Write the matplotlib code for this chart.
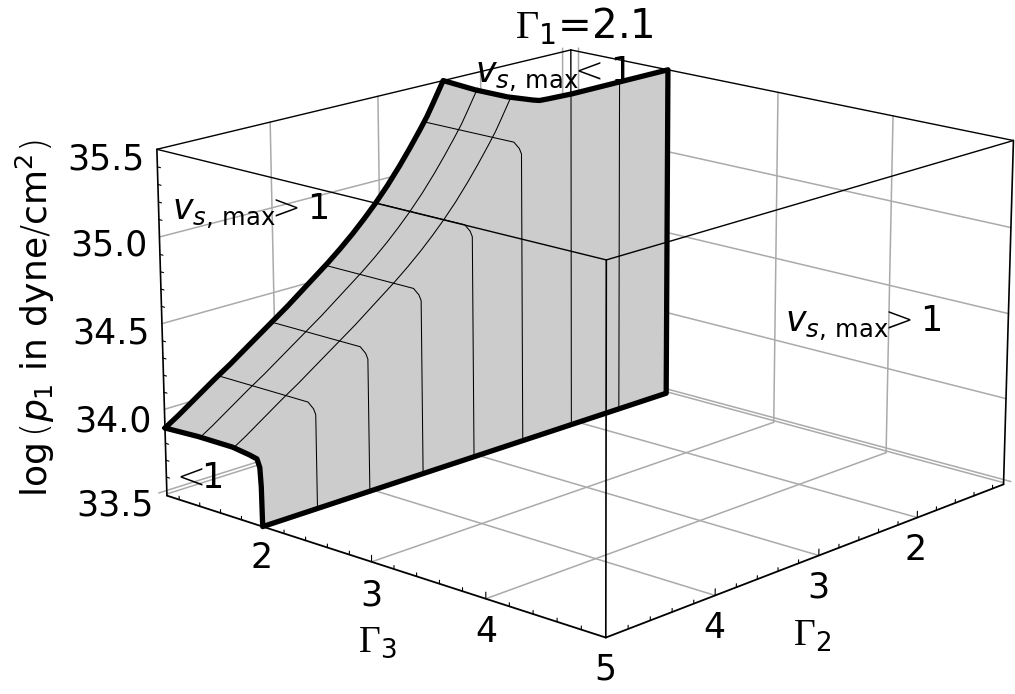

import numpy as np, matplotlib
matplotlib.use('Agg')
import matplotlib.pyplot as plt
from mpl_toolkits.mplot3d.art3d import Poly3DCollection

plt.rcParams.update({'font.family': 'DejaVu Sans', 'mathtext.fontset': 'custom',
    'mathtext.rm': 'Liberation Serif', 'mathtext.it': 'DejaVu Sans:italic',
    'mathtext.sf': 'DejaVu Sans', 'mathtext.bf': 'DejaVu Sans:bold',
    'mathtext.cal': 'DejaVu Sans:weight=200', 'mathtext.fallback': 'cm'})

W, H = 1015, 694
# axis ranges
G_MIN, G_MAX = 1.08, 5.0
Z_MIN, Z_MAX = 33.49, 35.5

# surface boundary at the lowest Gamma3 (bold curve)
curve_g2 = [5.00, 4.88, 4.77, 4.66, 4.55, 4.41, 4.27, 4.14, 4.01, 3.88, 3.76, 3.63, 3.50,
            3.38, 3.26, 3.15, 3.04, 2.92, 2.80, 2.70, 2.60, 2.53, 2.47, 2.42, 2.37]
curve_z = [33.89, 33.94, 33.99, 34.04, 34.09, 34.15, 34.215, 34.275, 34.335, 34.395, 34.455, 34.52, 34.585,
           34.65, 34.72, 34.79, 34.865, 34.955, 35.055, 35.145, 35.24, 35.31, 35.38, 35.44, 35.50]
# upper cut of the surface at log p1 = 35.5
top_g2 = [2.37, 2.42, 2.42, 2.37, 2.35, 2.28, 2.06, 1.58, 1.08]
top_g3 = [1.08, 1.44, 1.74, 1.93, 1.97, 1.98, 2.00, 2.00, 2.00]
# edge of the surface at Gamma2 = 5
edge_g3 = [2.00, 1.995, 1.985, 1.96, 1.89, 1.73, 1.40, 1.08]
edge_z = [33.49, 33.72, 33.83, 33.875, 33.885, 33.90, 33.90, 33.89]
# mesh lines of constant Gamma2
mesh_g2 = [4.51, 4.03, 3.53, 3.04, 2.56]
mesh_z = [34.10, 34.33, 34.58, 34.87, 35.28]
bend_g3 = [1.08, 1.38, 1.69, 1.93, 1.98, 2.00, 2.00]
bend_dz = [0.0, 0.0, 0.0, 0.0, -0.03, -0.06]
sheet_g2 = [2.07, 1.58]
# mesh lines of constant Gamma3
mesh_g3 = [1.41, 1.73]
# ticks
major_g = [2, 3, 4]
grid_g = [1, 2, 3, 4]
grid_z = [33.5, 34.0, 34.5, 35.0]
minor_g = [1.2, 1.4, 1.6, 1.8, 2.2, 2.4, 2.6, 2.8, 3.2, 3.4, 3.6, 3.8, 4.2, 4.4, 4.6, 4.8]
minor_z = [33.6, 33.7, 33.8, 33.9, 34.1, 34.2, 34.3, 34.4, 34.6, 34.7, 34.8, 34.9, 35.1, 35.2, 35.3, 35.4]
z_labels = ['35.5', '35.0', '34.5', '34.0', '33.5']
g3_labels = ['2', '3', '4', '5']
g2_labels = ['2', '3', '4']

fig = plt.figure(figsize=(W / 100, H / 100), dpi=100)
S0 = 500
ax = fig.add_axes([100 / W, 100 / H, S0 / W, S0 / H], projection='3d')
ax.set_xlim(G_MIN, G_MAX, view_margin=0)
ax.set_ylim(G_MIN, G_MAX, view_margin=0)
ax.set_zlim(Z_MIN, Z_MAX, view_margin=0)
ax.view_init(elev=16.3713, azim=42.6185)
ax.set_proj_type('persp', focal_length=0.8905)
ax.set_box_aspect((1.6668, 1.6649, 1))
ax.set_axis_off()
ax.computed_zorder = False
# place the axes so that the projected box lands where wanted
s, cx, cy = 4829.51, 586.88, 319.46
ax.apply_aspect()
a, b = ax.transData.transform([(0, 0), (1, 1)])
S = S0 * s / (b[0] - a[0])
fx, fy = (a[0] - 100) / S0, (a[1] - 100) / S0
ax.set_position([(cx - fx * S) / W, (H - cy - fy * S) / H, S / W, S / H])

def line(xs, ys, zs, c='k', lw=1.0, zo=2):
    ax.plot(xs, ys, zs, color=c, lw=lw, zorder=zo, clip_on=False, solid_capstyle='round')

GRID = '#aaaaaa'
GW = 1.1
for g in grid_g:
    line([g, g], [G_MIN, G_MAX], [Z_MIN, Z_MIN], GRID, GW, 1)
    line([G_MIN, G_MAX], [g, g], [Z_MIN, Z_MIN], GRID, GW, 1)
    line([g, g], [G_MIN, G_MIN], [Z_MIN, Z_MAX], GRID, GW, 1)
    line([G_MIN, G_MIN], [g, g], [Z_MIN, Z_MAX], GRID, GW, 1)
for z in grid_z:
    line([G_MIN, G_MAX], [G_MIN, G_MIN], [z, z], GRID, GW, 1)
    line([G_MIN, G_MIN], [G_MIN, G_MAX], [z, z], GRID, GW, 1)
# back box edges
line([G_MIN, G_MAX], [G_MIN, G_MIN], [Z_MAX, Z_MAX], 'k', 1.0, 2)
line([G_MIN, G_MIN], [G_MIN, G_MAX], [Z_MAX, Z_MAX], 'k', 1.0, 2)
line([G_MIN, G_MIN], [G_MIN, G_MIN], [Z_MIN, Z_MAX], 'k', 1.0, 2)

# surface outline
ox = curve_g2 + top_g2[1:] + [G_MIN] + [G_MAX] * len(edge_g3)
oy = [G_MIN] * len(curve_g2) + top_g3[1:] + [2.00] + edge_g3
oz = curve_z + [Z_MAX] * (len(top_g2) - 1) + [Z_MIN] + edge_z
ax.add_collection3d(Poly3DCollection([list(zip(ox, oy, oz))], facecolor='#cccccc',
                                     edgecolor='none', zorder=3, clip_on=False))
# mesh
for g, z in zip(mesh_g2, mesh_z):
    zz = [z + d for d in bend_dz] + [Z_MIN]
    line([g] * len(bend_g3), bend_g3, zz, 'k', 0.75, 4)
for g in sheet_g2:
    line([g, g], [2.0, 2.0], [Z_MIN, Z_MAX], 'k', 0.75, 4)
cg, cz = np.array(curve_g2), np.array(curve_z)
for g3 in mesh_g3:
    line(list(cg), [g3] * len(cg), list(cz), 'k', 0.75, 4)
# bold outline
line(ox, oy, oz, 'k', 3.8, 5)
# front box
line([G_MAX, G_MAX], [G_MIN, G_MAX], [Z_MAX, Z_MAX], 'k', 1.0, 6)
line([G_MIN, G_MAX], [G_MAX, G_MAX], [Z_MAX, Z_MAX], 'k', 1.0, 6)
line([G_MAX, G_MAX], [G_MAX, G_MAX], [Z_MIN, Z_MAX], 'k', 1.2, 6)
line([G_MAX, G_MAX], [G_MIN, G_MIN], [Z_MIN, Z_MAX], 'k', 1.2, 6)
line([G_MIN, G_MIN], [G_MAX, G_MAX], [Z_MIN, Z_MAX], 'k', 1.2, 6)
line([G_MAX, G_MAX], [G_MIN, G_MAX], [Z_MIN, Z_MIN], 'k', 1.3, 6)
line([G_MIN, G_MAX], [G_MAX, G_MAX], [Z_MIN, Z_MIN], 'k', 1.3, 6)
# tick marks
for g, dz in [(t, 0.037) for t in major_g] + [(t, 0.02) for t in minor_g]:
    line([G_MAX, G_MAX], [g, g], [Z_MIN, Z_MIN + dz], 'k', 0.8, 6)
    line([g, g], [G_MAX, G_MAX], [Z_MIN, Z_MIN + dz], 'k', 0.8, 6)
for z in minor_z:
    line([G_MAX, G_MAX], [G_MIN, G_MIN + 0.03], [z, z], 'k', 0.8, 6)

def label(px, py, s, size=25, ha='center', va='center', rot=0):
    fig.text(px / W, 1 - py / H, s, fontsize=size, ha=ha, va=va, rotation=rot, zorder=10)

for (px, py), t in zip([(106, 160), (109, 245), (111, 334), (113, 421), (115, 506)], z_labels):
    label(px, py, t)
for (px, py), t in zip([(262, 558), (371, 595), (486, 632), (605, 670)], g3_labels):
    label(px, py, t)
for (px, py), t in zip([(916, 550), (818, 588), (714, 628)], g2_labels):
    label(px, py, t)
label(584, 38, r'$\mathrm{\Gamma}_{\mathsf{1}}$=2.1', 29, va='baseline')
label(377, 652, r'$\mathrm{\Gamma}_{\mathsf{3}}$', 27, va='baseline')
label(812, 646, r'$\mathrm{\Gamma}_{\mathsf{2}}$', 27, va='baseline')
VS = r'$v_{s\mathsf{,\,max}}\!\!\mathcal{%s}$1'
label(475, 83, VS % '<', ha='left', va='baseline')
label(172, 220, VS % '>', ha='left', va='baseline')
label(785, 332, VS % '>', ha='left', va='baseline')
label(170, 488, r'$\mathcal{<}\!\!$1', ha='left', va='baseline')
label(35, 318, r'log$\,\mathcal{(}p_{\mathsf{1}}$ in dyne$\mathcal{/}$cm$^{\mathsf{2}}\mathcal{)}$',
      26, va='center', ha='center', rot=90)

fig.savefig('out.png', dpi=100)
